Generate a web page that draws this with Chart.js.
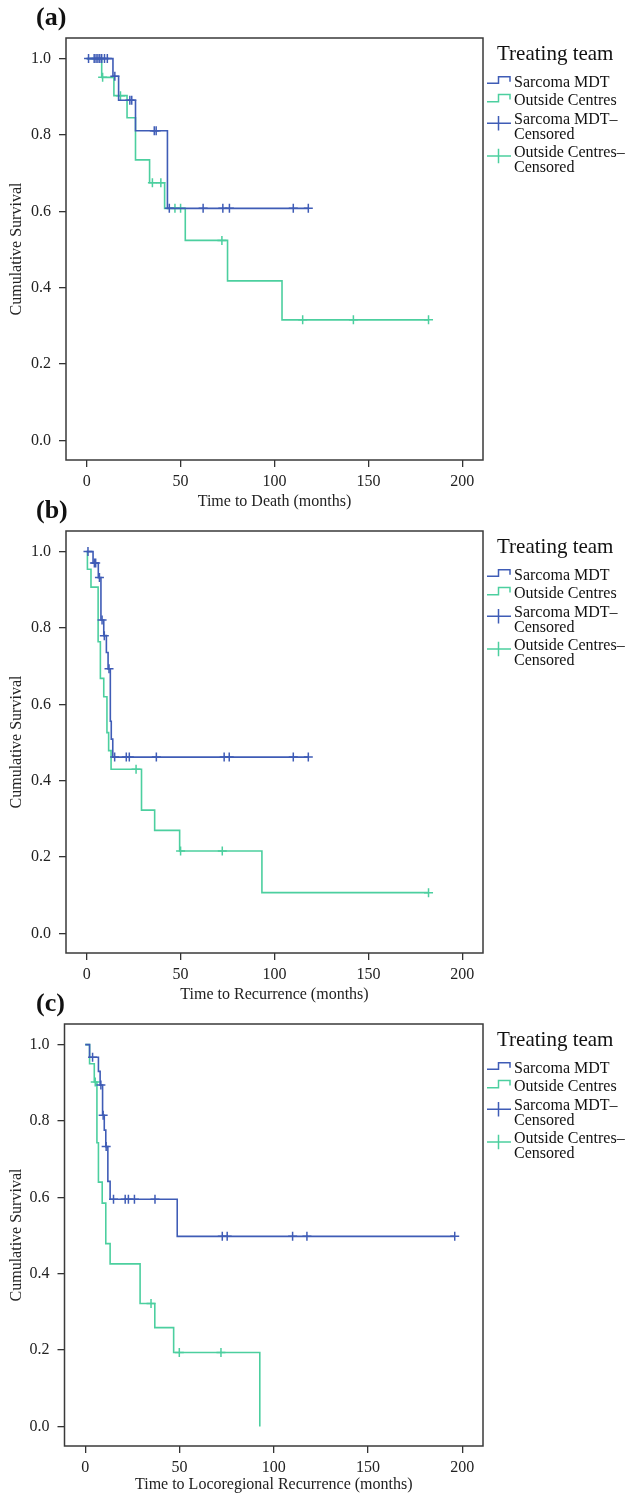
<!DOCTYPE html>
<html><head><meta charset="utf-8">
<script src="https://cdn.jsdelivr.net/npm/chart.js@4.4.1/dist/chart.umd.min.js"></script>
<style>
html,body{margin:0;padding:0;background:#fff;width:627px;height:1499px;overflow:hidden;position:relative}
.p{position:absolute;left:0;width:627px}
canvas{display:block}
</style></head><body>
<div class="p" style="top:0"><canvas id="ca" width="627" height="516"></canvas></div>
<div class="p" style="top:493px"><canvas id="cb" width="627" height="516"></canvas></div>
<div class="p" style="top:986px"><canvas id="cc" width="627" height="513"></canvas></div>
<script>
// ---------- shared labels ----------
const xTicks = [0, 50, 100, 150, 200];
const yTicks = [0, 0.2, 0.4, 0.6, 0.8, 1.0];
const legendTitle = 'Treating team';
const legendLabels = [['Sarcoma MDT'], ['Outside Centres'], ['Sarcoma MDT–', 'Censored'], ['Outside Centres–', 'Censored']];
const panelLabels = ['(a)', '(b)', '(c)'];
const xTitles = ['Time to Death (months)', 'Time to Recurrence (months)', 'Time to Locoregional Recurrence (months)'];
const yTitle = 'Cumulative Survival';

// ---------- panel (a): death ----------
const aMdtEventT = [14, 17, 26, 43];
const aMdtEventS = [0.954, 0.891, 0.811, 0.608];
const aMdtLast = 118;
const aMdtCens = [1, 4, 5, 6, 7, 8, 9.5, 11, 15, 23, 24, 36, 37, 44, 62, 72.5, 76, 110, 118];
const aOutEventT = [8, 14.5, 21.5, 26, 33.5, 41.5, 52.5, 75, 104];
const aOutEventS = [0.951, 0.903, 0.845, 0.735, 0.675, 0.608, 0.524, 0.418, 0.316];
const aOutLast = 182;
const aOutCens = [8.5, 18, 35, 39.5, 47, 50, 72, 115, 142, 182];

// ---------- panel (b): recurrence ----------
const bMdtEventT = [3.4, 6.2, 7.6, 9.1, 10.5, 11.4, 12.6, 13.1, 13.9];
const bMdtEventS = [0.970, 0.932, 0.821, 0.780, 0.736, 0.693, 0.556, 0.509, 0.462];
const bMdtLast = 118;
const bMdtCens = [0.7, 4.1, 4.8, 6.8, 8.2, 9.4, 11.9, 14.9, 21.1, 22.7, 37.1, 73.2, 75.9, 110, 118];
const bOutEventT = [0.4, 2.3, 6.1, 7.3, 9.1, 10.8, 11.7, 13, 29.2, 36.2, 49.5, 93.3];
const bOutEventS = [0.954, 0.907, 0.764, 0.668, 0.620, 0.526, 0.479, 0.430, 0.323, 0.270, 0.216, 0.107];
const bOutLast = 182;
const bOutCens = [26.3, 50, 72.2, 182];

// ---------- panel (c): locoregional recurrence ----------
const cMdtEventT = [2.3, 7, 7.9, 9.2, 10.1, 10.9, 12, 13.2, 48.8];
const cMdtEventS = [0.967, 0.930, 0.894, 0.815, 0.776, 0.733, 0.642, 0.595, 0.498];
const cMdtLast = 196;
const cMdtCens = [3.9, 8.3, 9.5, 11.1, 15, 21.2, 22.9, 26.1, 37, 72.7, 75.3, 110, 117.6, 196];
const cOutEventT = [2.3, 4.8, 6.2, 7, 9, 10.9, 13.2, 29.1, 36.9, 46.9, 92.6];
const cOutEventS = [0.950, 0.902, 0.743, 0.640, 0.585, 0.479, 0.426, 0.322, 0.259, 0.194, 0];
const cOutLast = 92.6;
const cOutCens = [5.3, 34.9, 49.9, 72];

const BLUE = '#3f5cb6';
const GREEN = '#4ccf9f';
const FONT = "'Liberation Serif', 'Times New Roman', serif";
Chart.defaults.font.family = FONT;

function stepPoints(evT, evS, last) {
  const pts = [{x: 0, y: 1}];
  evT.forEach((t, i) => pts.push({x: t, y: evS[i]}));
  if (last > evT[evT.length - 1]) pts.push({x: last, y: evS[evS.length - 1]});
  return pts;
}
function survAt(t, evT, evS) {
  let s = 1;
  evT.forEach((e, i) => { if (e <= t) s = evS[i]; });
  return s;
}
function censPoints(cens, evT, evS) {
  return cens.map(t => ({x: t, y: survAt(t, evT, evS)}));
}

const decorPlugin = {
  id: 'decor',
  afterDatasetsDraw(chart, args, opts) {
    const {ctx, chartArea: a} = chart;
    ctx.save();
    ctx.strokeStyle = '#3a3a3a';
    ctx.lineWidth = 1.5;
    ctx.strokeRect(a.left, a.top, a.right - a.left, a.bottom - a.top);
    ctx.restore();
  },
  afterDraw(chart, args, opts) {
    const {ctx} = chart;
    ctx.save();
    ctx.fillStyle = '#111';
    ctx.textBaseline = 'alphabetic';
    ctx.textAlign = 'left';
    ctx.font = 'bold 26px ' + FONT;
    ctx.fillText(opts.label, 36, 25);
    // legend
    ctx.font = '21px ' + FONT;
    ctx.fillText(legendTitle, 497, 60);
    ctx.font = '16px ' + FONT;
    const tx = 514;
    ctx.fillText(legendLabels[0][0], tx, 87);
    ctx.fillText(legendLabels[1][0], tx, 105);
    ctx.fillText(legendLabels[2][0], tx, 124);
    ctx.fillText(legendLabels[2][1], tx, 138.5);
    ctx.fillText(legendLabels[3][0], tx, 157);
    ctx.fillText(legendLabels[3][1], tx, 171.5);
    // symbols
    ctx.lineWidth = 1.5;
    const stepSym = (col, yl, yh) => {
      ctx.strokeStyle = col;
      ctx.beginPath();
      ctx.moveTo(487, yl); ctx.lineTo(498.5, yl); ctx.lineTo(498.5, yh);
      ctx.lineTo(510, yh); ctx.lineTo(510, yh + 5);
      ctx.stroke();
    };
    stepSym(BLUE, 83.3, 76.7);
    stepSym(GREEN, 101.7, 94.5);
    const crossSym = (col, cy) => {
      ctx.strokeStyle = col;
      ctx.beginPath();
      ctx.moveTo(487, cy); ctx.lineTo(511, cy);
      ctx.moveTo(498.5, cy - 7.3); ctx.lineTo(498.5, cy + 7.3);
      ctx.stroke();
    };
    crossSym(BLUE, 123.3);
    crossSym(GREEN, 156);
    ctx.restore();
  }
};

function makeChart(id, idx, canvasH, leftEdge, mdt, out) {
  const ctx = document.getElementById(id);
  return new Chart(ctx, {
    type: 'line',
    data: {
      datasets: [
        {data: censPoints(mdt.cens, mdt.t, mdt.s), showLine: false, pointStyle: 'cross', pointRadius: 4.5,
         borderColor: BLUE, backgroundColor: BLUE, pointBorderWidth: 1.5, order: 0},
        {data: stepPoints(mdt.t, mdt.s, mdt.last), stepped: true, borderColor: BLUE, borderWidth: 1.6,
         pointRadius: 0, fill: false, order: 1},
        {data: censPoints(out.cens, out.t, out.s), showLine: false, pointStyle: 'cross', pointRadius: 4.5,
         borderColor: GREEN, backgroundColor: GREEN, pointBorderWidth: 1.5, order: 2},
        {data: stepPoints(out.t, out.s, out.last), stepped: true, borderColor: GREEN, borderWidth: 1.6,
         pointRadius: 0, fill: false, order: 3}
      ]
    },
    options: {
      responsive: false,
      animation: false,
      devicePixelRatio: 1,
      layout: {padding: {top: 38, right: 144, left: 4, bottom: 0}},
      plugins: {legend: {display: false}, tooltip: {enabled: false}, decor: {label: panelLabels[idx]}},
      scales: {
        x: {
          type: 'linear', min: -11, max: 211,
          afterBuildTicks: s => { s.ticks = xTicks.map(v => ({value: v})); },
          afterFit: s => { s.height = canvasH - 460; },
          ticks: {color: '#222', font: {size: 16}, padding: 5, maxRotation: 0, autoSkip: false},
          grid: {drawOnChartArea: false, drawTicks: true, tickLength: 7, color: '#333', lineWidth: 1.3},
          border: {display: false},
          title: {display: true, text: xTitles[idx], color: '#222', font: {size: 16}, padding: {top: 2, bottom: 5}}
        },
        y: {
          type: 'linear', min: -0.051, max: 1.054,
          afterBuildTicks: s => { s.ticks = yTicks.map(v => ({value: v})); },
          afterFit: s => { s.width = leftEdge - 4; },
          ticks: {color: '#222', font: {size: 16}, padding: 8, callback: v => v.toFixed(1)},
          grid: {drawOnChartArea: false, drawTicks: true, tickLength: 7, color: '#333', lineWidth: 1.3},
          border: {display: false},
          title: {display: true, text: yTitle, color: '#222', font: {size: 16}, padding: {top: 3, bottom: 0}}
        }
      }
    },
    plugins: [decorPlugin]
  });
}

makeChart('ca', 0, 516, 66,
  {t: aMdtEventT, s: aMdtEventS, last: aMdtLast, cens: aMdtCens},
  {t: aOutEventT, s: aOutEventS, last: aOutLast, cens: aOutCens});
makeChart('cb', 1, 516, 66,
  {t: bMdtEventT, s: bMdtEventS, last: bMdtLast, cens: bMdtCens},
  {t: bOutEventT, s: bOutEventS, last: bOutLast, cens: bOutCens});
makeChart('cc', 2, 513, 64.5,
  {t: cMdtEventT, s: cMdtEventS, last: cMdtLast, cens: cMdtCens},
  {t: cOutEventT, s: cOutEventS, last: cOutLast, cens: cOutCens});
</script>
</body></html>
